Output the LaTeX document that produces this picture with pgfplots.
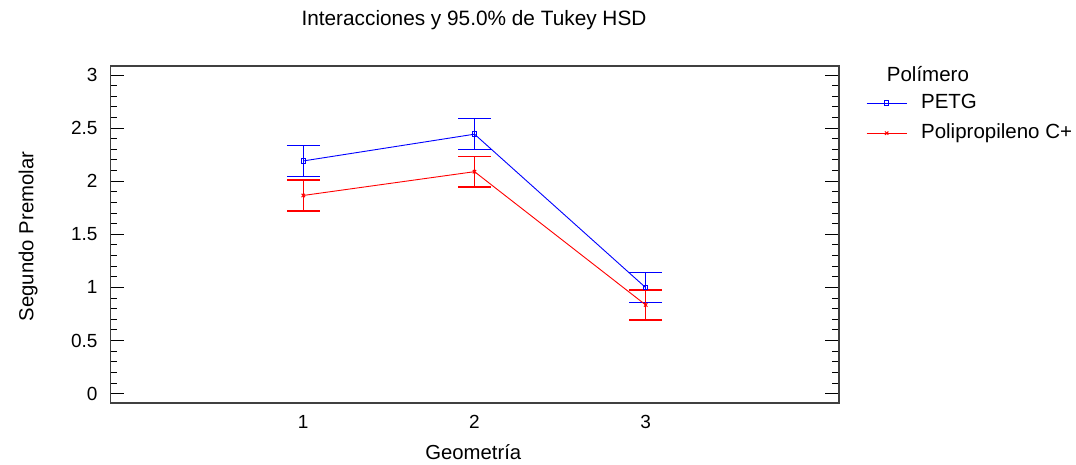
\documentclass[border=0pt]{standalone}
\usepackage{pgfplots}
\pgfplotsset{compat=1.18}
\usepackage{fontspec}
\setmainfont{Liberation Sans}
\definecolor{pblue}{RGB}{0,0,255}
\definecolor{pred}{RGB}{255,0,0}
\begin{document}
\begin{tikzpicture}
\useasboundingbox (0,0) rectangle (1076pt,465pt);
\begin{axis}[
  at={(110.3pt,62pt)}, anchor=south west,
  scale only axis, width=728.4pt, height=337pt,
  xmin=-0.127, xmax=4.127, ymin=-0.088, ymax=3.085,
  xtick={1,2,3}, ytick={0,0.5,1,1.5,2,2.5,3}, minor y tick num=4,
  /pgf/number format/assume math mode=true,
  tick align=inside,
  xtick style={draw=none},
  ytick style={black, line width=1pt},
  minor tick style={black, line width=1pt},
  major tick length=14pt, minor tick length=7pt,
  axis line style={draw=black!75, line width=1.6pt},
  ticklabel style={font=\fontsize{19}{22}\selectfont},
  yticklabel style={inner sep=0pt, xshift=-12.6pt},
  xticklabel style={inner sep=0pt, yshift=-12pt},
  title={Interacciones y 95.0\% de Tukey HSD},
  title style={font=\fontsize{20.8}{24}\selectfont, at={(0.4993,1.1018)}, anchor=base, inner sep=0pt},
  xlabel={Geometría},
  xlabel style={font=\fontsize{20.3}{24}\selectfont, at={(0.4983,-0.169)}, anchor=base, inner sep=0pt},
  ylabel={Segundo Premolar},
  ylabel style={font=\fontsize{20.3}{24}\selectfont, at={(-0.1057,0.494)}, anchor=base, rotate=0, inner sep=0pt},
  legend style={draw=none, fill=none, at={(1.0375,0.917)}, anchor=north west,
    inner sep=0pt, font=\fontsize{20.5}{24}\selectfont,
    nodes={inner sep=0pt, text height=14pt, text depth=4pt},
    column sep=14pt, row sep=12pt},
  legend cell align=left,
  legend image code/.code={\draw[mark repeat=2,mark phase=2] plot coordinates {(0pt,0pt) (20pt,0pt) (40pt,0pt)};},
  error bars/y dir=both, error bars/y explicit,
]
\addplot[color=pblue, line width=0.9pt, mark=square, mark size=2.2pt, mark options={line width=1pt},
  error bars/error bar style={draw=pblue, line width=1.3pt},
  error bars/error mark options={draw=pblue, rotate=90, mark size=16.5pt, line width=1.3pt}]
  coordinates {
  (1,2.191) +- (0,0.147)
  (2,2.443) +- (0,0.147)
  (3,0.998) +- (0,0.141)
};
\addlegendentry{PETG}
\addplot[color=pred, line width=0.9pt, mark=x, mark size=2.4pt, mark options={line width=1pt},
  error bars/error bar style={draw=pred, line width=1.3pt},
  error bars/error mark options={draw=pred, rotate=90, mark size=16.5pt, line width=1.3pt}]
  coordinates {
  (1,1.866) +- (0,0.146)
  (2,2.090) +- (0,0.143)
  (3,0.835) +- (0,0.142)
};
\addlegendentry{Polipropileno C+}
\end{axis}
\node[anchor=base west, inner sep=0pt, font=\fontsize{20.5}{24}\selectfont] at (886.7pt,383.3pt) {Polímero};
\end{tikzpicture}
\end{document}
